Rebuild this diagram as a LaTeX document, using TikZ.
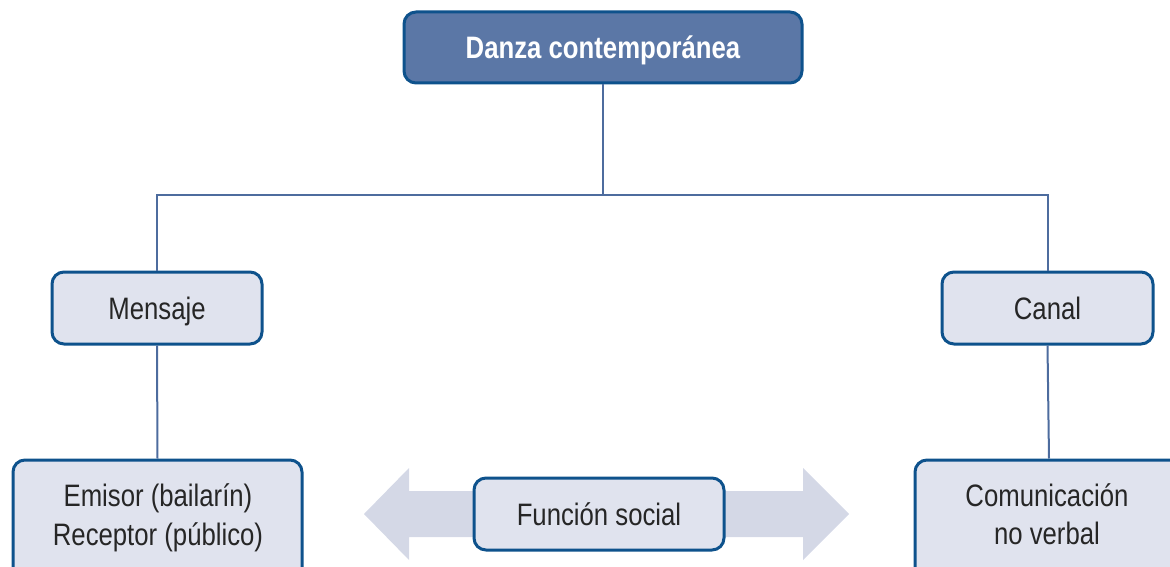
\documentclass[tikz,border=0pt]{standalone}
\usepackage{fontspec}
\setmainfont[FakeStretch=0.83]{Liberation Sans}
\usetikzlibrary{positioning}
\definecolor{topfill}{HTML}{5B77A6}
\definecolor{boxborder}{HTML}{0E528C}
\definecolor{boxfill}{HTML}{E0E3EE}
\definecolor{arrowfill}{HTML}{D4D8E6}
\definecolor{linecol}{HTML}{4D6C9E}
\begin{document}
\begin{tikzpicture}[x=1pt,y=-1pt,
  topbox/.style={draw=boxborder, line width=3pt, fill=topfill, rounded corners=12pt,
     minimum width=398pt, minimum height=71pt, inner sep=0pt, text=white,
     text height=22pt, text depth=0pt,
     font=\fontsize{31}{37}\selectfont\bfseries},
  subbox/.style={draw=boxborder, line width=3pt, fill=boxfill, rounded corners=12pt,
     inner sep=0pt, text=black!85, text height=22pt, text depth=0pt,
     font=\fontsize{31}{37}\selectfont},
  lbl/.style={inner sep=0pt, text=black!85, anchor=base,
     font=\fontsize{31}{37}\selectfont},
  conn/.style={draw=linecol, line width=2pt}]
\useasboundingbox (0,0) rectangle (1170,567);
% double arrow
\fill[arrowfill] (364,514) -- (409,468) -- (409,491) -- (803,491) -- (803,468)
  -- (849,514) -- (803,560) -- (803,537) -- (409,537) -- (409,560) -- cycle;
% nodes
\node[topbox] (top) at (603,47.5) {Danza contemporánea};
\node[subbox, minimum width=210pt, minimum height=72pt] (men) at (157,308) {Mensaje};
\node[subbox, minimum width=211pt, minimum height=72pt] (can) at (1047.5,308) {Canal};
\node[subbox, minimum width=289pt, minimum height=150pt] (emi) at (157.5,535) {};
\node[subbox, minimum width=268pt, minimum height=150pt] (com) at (1049,535) {};
\node[subbox, minimum width=250pt, minimum height=72pt] (fun) at (599,514) {Función social};
\node[lbl] (emia) at (158,506) {Emisor (bailarín)};
\node[lbl] (emib) at (158,545) {Receptor (público)};
\node[lbl] (coma) at (1047,506) {Comunicación};
\node[lbl] (comb) at (1047,544) {no verbal};
\coordinate (j) at (603,195);
% connectors
\draw[conn] (top.south) -- (j);
\draw[conn] (men.north) |- (j) -| (can.north);
\draw[conn] (men.south) -- (emi.north);
\draw[conn] (can.south) -- (com.north);
\end{tikzpicture}
\end{document}
